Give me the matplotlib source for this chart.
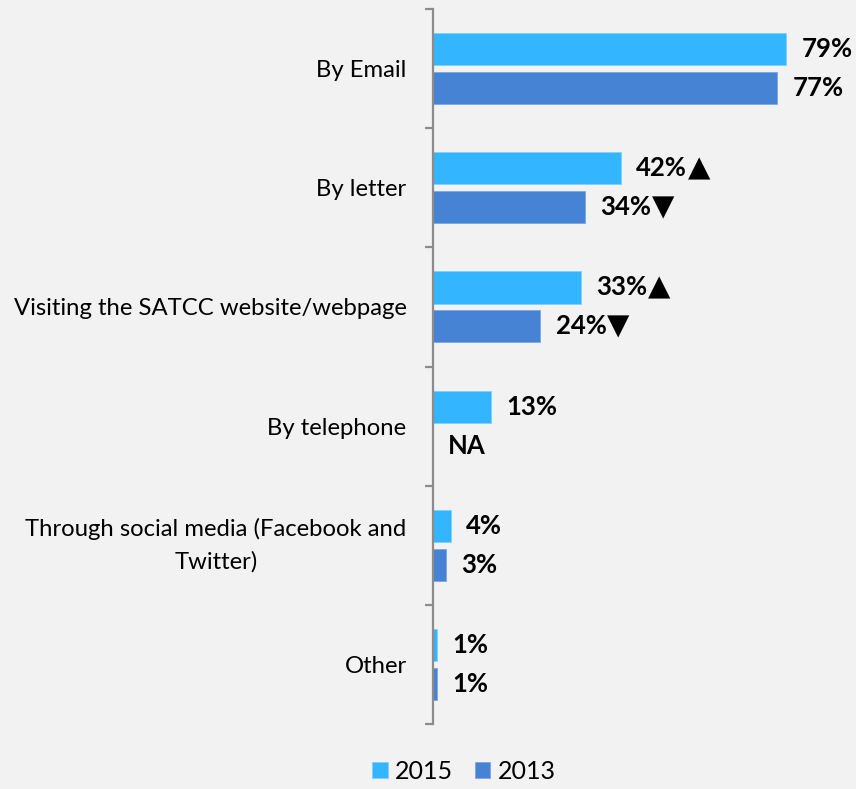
import matplotlib
matplotlib.use("Agg")
import matplotlib.pyplot as plt
import numpy as np

categories = ["By Email", "By letter", "Visiting the SATCC website/webpage",
              "By telephone", "Through social media (Facebook and\nTwitter)", "Other"]
values_2015 = [79, 42, 33, 13, 4, 1]
values_2013 = [77, 34, 24, None, 3, 1]
marks_2015 = ["", "▲", "▲", "", "", ""]
marks_2013 = ["", "▼", "▼", "", "", ""]
series_names = ["2015", "2013"]

color_2015 = "#33b5ff"
color_2013 = "#4683d4"
bg = "#f2f2f2"
fam = ["Lato", "DejaVu Sans"]

plt.rcParams["font.family"] = fam

fig = plt.figure(figsize=(8.56, 7.89), dpi=100, facecolor=bg)
ax = fig.add_axes([433 / 856, 1 - 724 / 789, 1 - 433 / 856, (724 - 9) / 789])
ax.set_facecolor(bg)

y = np.arange(len(categories))
off = 0.163
h = 0.27
v13 = [v if v is not None else 0 for v in values_2013]

ax.barh(y - off, values_2015, height=h, color=color_2015, edgecolor="#7fd0ff",
        linewidth=0.6, label=series_names[0])
ax.barh(y + off, v13, height=h, color=color_2013, edgecolor="#7aa6e0",
        linewidth=0.6, label=series_names[1])

ax.set_xlim(0, 94.6)
ax.set_ylim(len(categories) - 0.5, -0.5)

pad = 3.4
labels = []
for i in range(len(categories)):
    t = ax.text(values_2015[i] + pad, y[i] - off, f"{values_2015[i]}%",
                va="center", ha="left", fontsize=18.5, fontweight="bold", family=fam)
    labels.append((t, marks_2015[i]))
    if values_2013[i] is None:
        txt, x0 = "NA", 0
    else:
        txt, x0 = f"{values_2013[i]}%", values_2013[i]
    t = ax.text(x0 + pad, y[i] + off, txt, va="center", ha="left", fontsize=18.5,
                fontweight="bold", family=fam)
    labels.append((t, marks_2013[i]))

for s in ["top", "right", "bottom"]:
    ax.spines[s].set_visible(False)
ax.spines["left"].set_color("#8c8c8c")
ax.spines["left"].set_linewidth(1.6)
ax.set_xticks([])

ax.set_yticks(y)
ax.set_yticklabels(categories, fontsize=17.2, multialignment="center", linespacing=1.6)
for lbl in ax.get_yticklabels():
    if "\n" in lbl.get_text():
        lbl.set_verticalalignment("center")
ax.tick_params(axis="y", which="major", length=0, pad=19)
ax.set_yticks(np.arange(-0.5, len(categories), 1.0), minor=True)
ax.tick_params(axis="y", which="minor", length=5.5, width=1.6, color="#8c8c8c",
               direction="out")

leg = fig.legend(loc="lower center", bbox_to_anchor=(0.542, -0.021), ncol=2, frameon=False,
                 fontsize=18, handlelength=0.62, handleheight=0.62, handletextpad=0.3,
                 columnspacing=0.85)

# trend arrows placed right after their percentage labels
fig.canvas.draw()
renderer = fig.canvas.get_renderer()
inv = ax.transData.inverted()
for t, mark in labels:
    if not mark:
        continue
    bb = t.get_window_extent(renderer)
    xd, yd = inv.transform((bb.x1 + 1, (bb.y0 + bb.y1) / 2))
    ax.text(xd, t.get_position()[1], mark, va="center", ha="left", fontsize=21,
            family=["DejaVu Sans"])

fig.savefig("out.png", dpi=100, facecolor=bg)
